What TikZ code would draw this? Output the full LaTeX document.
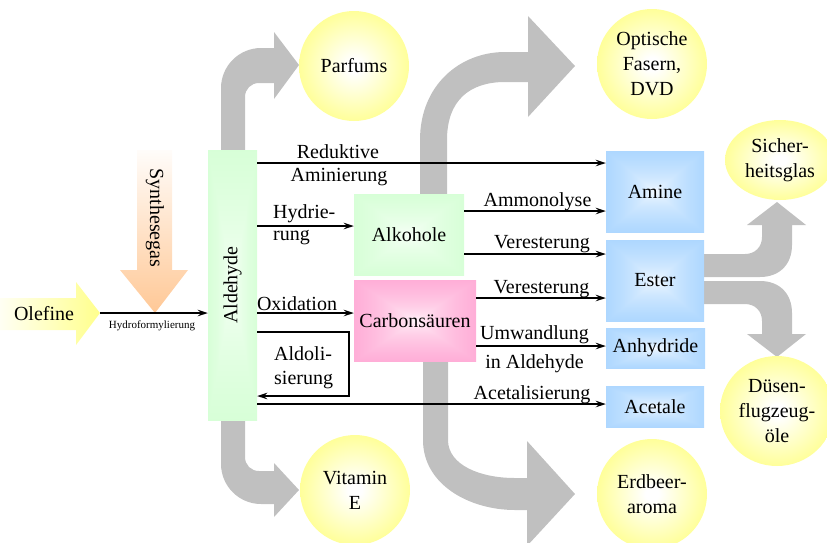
\documentclass[tikz,border=0pt]{standalone}
\usepackage{fontspec}
\setmainfont{Liberation Serif}
\usetikzlibrary{arrows.meta,shapes.geometric}
\definecolor{fatgray}{HTML}{C0C0C0}
\definecolor{sun}{HTML}{FFFF8C}
\definecolor{peach}{HTML}{FFC896}
% radial fade for the product circles
\pgfdeclareradialshading{sunball}{\pgfpoint{0bp}{0bp}}{color(0bp)=(white); color(3bp)=(white); color(28bp)=(sun); color(50bp)=(sun)}
% rectangular fades (white middle, coloured rim)
\pgfdeclarefunctionalshading{skybox}{\pgfpoint{-50bp}{-50bp}}{\pgfpoint{50bp}{50bp}}{}{
  abs exch abs 2 copy sub abs add add 100 div sqrt
  dup 0.45 mul 1 exch sub
  exch dup 0.22 mul 1 exch sub
  exch 0 mul 1 exch sub
}
\pgfdeclarefunctionalshading{mintbox}{\pgfpoint{-50bp}{-50bp}}{\pgfpoint{50bp}{50bp}}{}{
  abs exch abs 2 copy sub abs add add 100 div sqrt
  dup 0.22 mul 1 exch sub
  exch dup 0 mul 1 exch sub
  exch 0.22 mul 1 exch sub
}
\pgfdeclarefunctionalshading{rosebox}{\pgfpoint{-50bp}{-50bp}}{\pgfpoint{50bp}{50bp}}{}{
  abs exch abs 2 copy sub abs add add 100 div sqrt
  dup 0 mul 1 exch sub
  exch dup 0.45 mul 1 exch sub
  exch 0.22 mul 1 exch sub
}
\tikzset{
  >={Stealth[length=10pt,width=6.5pt]},
  every node/.style={font=\fontsize{20}{25}\selectfont},
  flow/.style={->,line width=1.6pt},
  route/.style={fill=fatgray},
  tag/.style={inner sep=0pt,anchor=base},
  chem/.style={shade,inner sep=0pt,align=center},
  prod/.style={chem,shading=skybox,minimum width=98pt},
  goal/.style={circle,shade,shading=sunball,minimum size=110pt,inner sep=0pt,align=center},
  goalell/.style={ellipse,shade,shading=sunball,inner sep=0pt,align=center},
}
\begin{document}
\begin{tikzpicture}[x=1pt,y=-1pt]
  \useasboundingbox (0,0) rectangle (827,542);
  % grey routes to the uses
  \fill[route] (221,155) -- (221,88) .. controls (221,66) and (239,48) .. (261,48) -- (274,48) -- (274,32) -- (299,65) -- (274,99) -- (274,83) -- (259,83) .. controls (251,83) and (245,89) .. (245,97) -- (245,155) -- cycle;
  \fill[route] (221,415) -- (221,464) .. controls (221,486) and (239,504) .. (261,504) -- (274,504) -- (274,517) -- (299,490) -- (274,463) -- (274,471) -- (259,471) .. controls (251,471) and (245,465) .. (245,457) -- (245,415) -- cycle;
  \fill[route] (420,200) -- (420,140) .. controls (420,85) and (460,52) .. (505,52) -- (528,52) -- (528,16) -- (575,66) -- (528,117) -- (528,82) -- (505,82) .. controls (470,82) and (447,100) .. (447,140) -- (447,200) -- cycle;
  \fill[route] (423,355) -- (423,440) .. controls (423,485) and (470,510) .. (515,510) -- (527,510) -- (527,546) -- (575,494) -- (527,441) -- (527,478) -- (515,478) .. controls (480,478) and (448,465) .. (448,440) -- (448,355) -- cycle;
  \fill[route] (700,254) -- (745,254) .. controls (755,254) and (762,247) .. (762,237) -- (762,225) -- (747,225) -- (777,202) -- (806,225) -- (792,225) -- (792,245) .. controls (792,264) and (780,277) .. (760,277) -- (700,277) -- cycle;
  \fill[route] (700,281) -- (760,281) .. controls (780,281) and (792,294) .. (792,313) -- (792,334) -- (806,334) -- (777,357) -- (747,334) -- (762,334) -- (762,321) .. controls (762,311) and (755,304) .. (745,304) -- (700,304) -- cycle;
  % feed arrows
  \shade[left color=sun!10,right color=sun] (0,298) -- (76,298) -- (76,282) -- (100,313) -- (76,345) -- (76,330) -- (0,330) -- cycle;
  \shade[top color=peach!5,bottom color=peach] (137,150) -- (137,270) -- (120,270) -- (155,313) -- (188,270) -- (172,270) -- (172,150) -- cycle;
  \coordinate (oltip) at (100,313);
  \node[tag] (olef) at (44,320) {Olefine};
  \node[rotate=-90] (syngas) at (155,218) {Synthesegas};

  % substances
  \node[chem,shading=mintbox,minimum width=49pt,minimum height=270pt] (ald) at (232.5,285) {};
  \node[rotate=90] (aldtxt) at (ald) {Aldehyde};
  \node[chem,shading=mintbox,minimum width=110pt,minimum height=81pt] (alk) at (409,234.5) {Alkohole};
  \node[chem,shading=rosebox,minimum width=122pt,minimum height=81pt] (carb) at (415,320.5) {Carbonsäuren};
  \node[prod,minimum height=81pt] (amine) at (655,191.5) {Amine};
  \node[prod,minimum height=81pt] (ester) at (655,280.5) {Ester};
  \node[prod,minimum width=99pt,minimum height=40pt] (anhy) at (655.5,348) {Anhydride};
  \node[prod,minimum height=41pt] (acet) at (655,406.5) {Acetale};

  % uses
  \node[goal] (parf) at (354,66) {Parfums};
  \node[goal] (optik) at (652,64) {Optische\\Fasern,\\DVD};
  \node[goal] (vitE) at (355,490) {Vitamin\\E};
  \node[goal] (erdb) at (652,494) {Erdbeer-\\aroma};
  \node[goalell,minimum width=110pt,minimum height=80pt] (glas) at (780,160) {Sicher-\\heitsglas};
  \node[goalell,minimum width=114pt,minimum height=110pt] (duese) at (777,411) {Düsen-\\flugzeug-\\öle};

  % reactions
  \draw[flow] (oltip) -- (ald.west |- oltip);
  \draw[flow] (ald.east |- 0,163) -- (amine.west |- 0,163);
  \draw[flow] (ald.east |- 0,226) -- (alk.west |- 0,226);
  \draw[flow] (ald.east |- 0,313) -- (carb.west |- 0,313);
  \draw[flow] (ald.east |- 0,332) -- (349,332) -- (349,396) -- (ald.east |- 0,396);
  \draw[flow] (ald.east |- 0,404) -- (acet.west |- 0,404);
  \draw[flow] (alk.east |- 0,211) -- (amine.west |- 0,211);
  \draw[flow] (alk.east |- 0,254) -- (ester.west |- 0,254);
  \draw[flow] (carb.east |- 0,298) -- (ester.west |- 0,298);
  \draw[flow] (carb.east |- 0,346) -- (anhy.west |- 0,346);

  \node[tag,font=\fontsize{11}{13}\selectfont] (hydfo) at (152,328) {Hydroformylierung};
  \node[tag] (reduk) at (338,158) {Reduktive};
  \node[tag] (amin) at (339,181) {Aminierung};
  \node[tag,anchor=base west] (hydr) at (273,218) {Hydrie-};
  \node[tag,anchor=base west] (rung) at (273,240) {rung};
  \node[tag] (oxid) at (297,310) {Oxidation};
  \node[tag,anchor=base west] (aldo) at (274,360) {Aldoli-};
  \node[tag,anchor=base west] (sier) at (274,384) {sierung};
  \node[tag] (ammo) at (537.5,206) {Ammonolyse};
  \node[tag] (ver1) at (542,248) {Veresterung};
  \node[tag] (ver2) at (541.5,293) {Veresterung};
  \node[tag] (umw) at (534.5,339) {Umwandlung};
  \node[tag] (inald) at (534.5,368) {in Aldehyde};
  \node[tag] (acetal) at (532,399) {Acetalisierung};
\end{tikzpicture}
\end{document}
